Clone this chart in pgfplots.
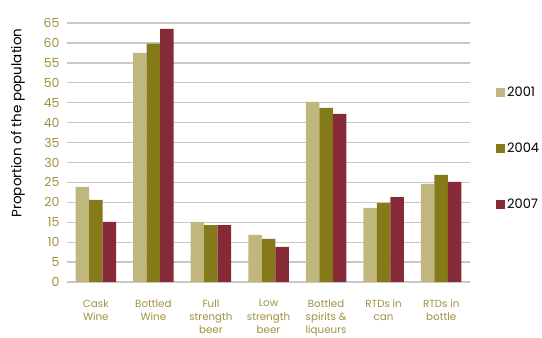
\documentclass[border=0pt]{standalone}
\usepackage{pgfplots}
\pgfplotsset{compat=1.18}
\usepackage{fontspec}
\setmainfont{Poppins}
\definecolor{c01}{HTML}{C0B77E}
\definecolor{c04}{HTML}{857A1A}
\definecolor{c07}{HTML}{862A38}
\definecolor{tk}{HTML}{A09140}
\definecolor{gr}{HTML}{C8C8C8}
\begin{document}
\begin{tikzpicture}[x=1pt,y=1pt]
\path[use as bounding box] (0,0) rectangle (542,338);
\begin{axis}[
  at={(67pt,56pt)}, anchor=south west,
  scale only axis, width=403pt, height=259pt,
  ybar=0pt, bar width=13.5pt,
  xmin=-0.5, xmax=6.5, ymin=0, ymax=65,
  ytick={0,5,...,65}, xtick={0,...,6},
  xticklabels={{Cask\\Wine},{Bottled\\Wine},{Full\\strength\\beer},{Low\\strength\\beer},{Bottled\\spirits \&\\liqueurs},{RTDs in\\can},{RTDs in\\bottle}},
  axis line style={draw=none},
  major tick length=0pt,
  ymajorgrids, grid style={gr, line width=1.3pt},
  /pgf/number format/assume math mode=true,
  yticklabel style={font=\fontsize{12.5}{14}\selectfont, text=tk, xshift=-4pt},
  xticklabel style={font=\fontsize{10.3}{13.3}\selectfont, text=tk, align=center, yshift=-14pt, anchor=north},
  ylabel={Proportion of the population},
  ylabel style={font=\fontsize{13.5}{15}\selectfont, at={(-49pt,0.614)}, anchor=center},
  legend style={at={(1.057,0.77)}, anchor=north west, draw=none, fill=none,
    font=\fontsize{13}{15}\selectfont, row sep=41pt, cells={anchor=west}},
  legend image code/.code={\path[#1,draw=none] (0pt,-4.5pt) rectangle (9pt,4.5pt);},
]
\addplot[fill=c01, draw=none] coordinates {(0,23.9) (1,57.5) (2,15.1) (3,11.8) (4,45.2) (5,18.6) (6,24.6)};
\addplot[fill=c04, draw=none] coordinates {(0,20.6) (1,59.8) (2,14.3) (3,10.8) (4,43.7) (5,19.8) (6,26.9)};
\addplot[fill=c07, draw=none] coordinates {(0,15.1) (1,63.5) (2,14.3) (3,8.8) (4,42.2) (5,21.3) (6,25.1)};
\legend{2001,2004,2007}
\end{axis}
\end{tikzpicture}
\end{document}
